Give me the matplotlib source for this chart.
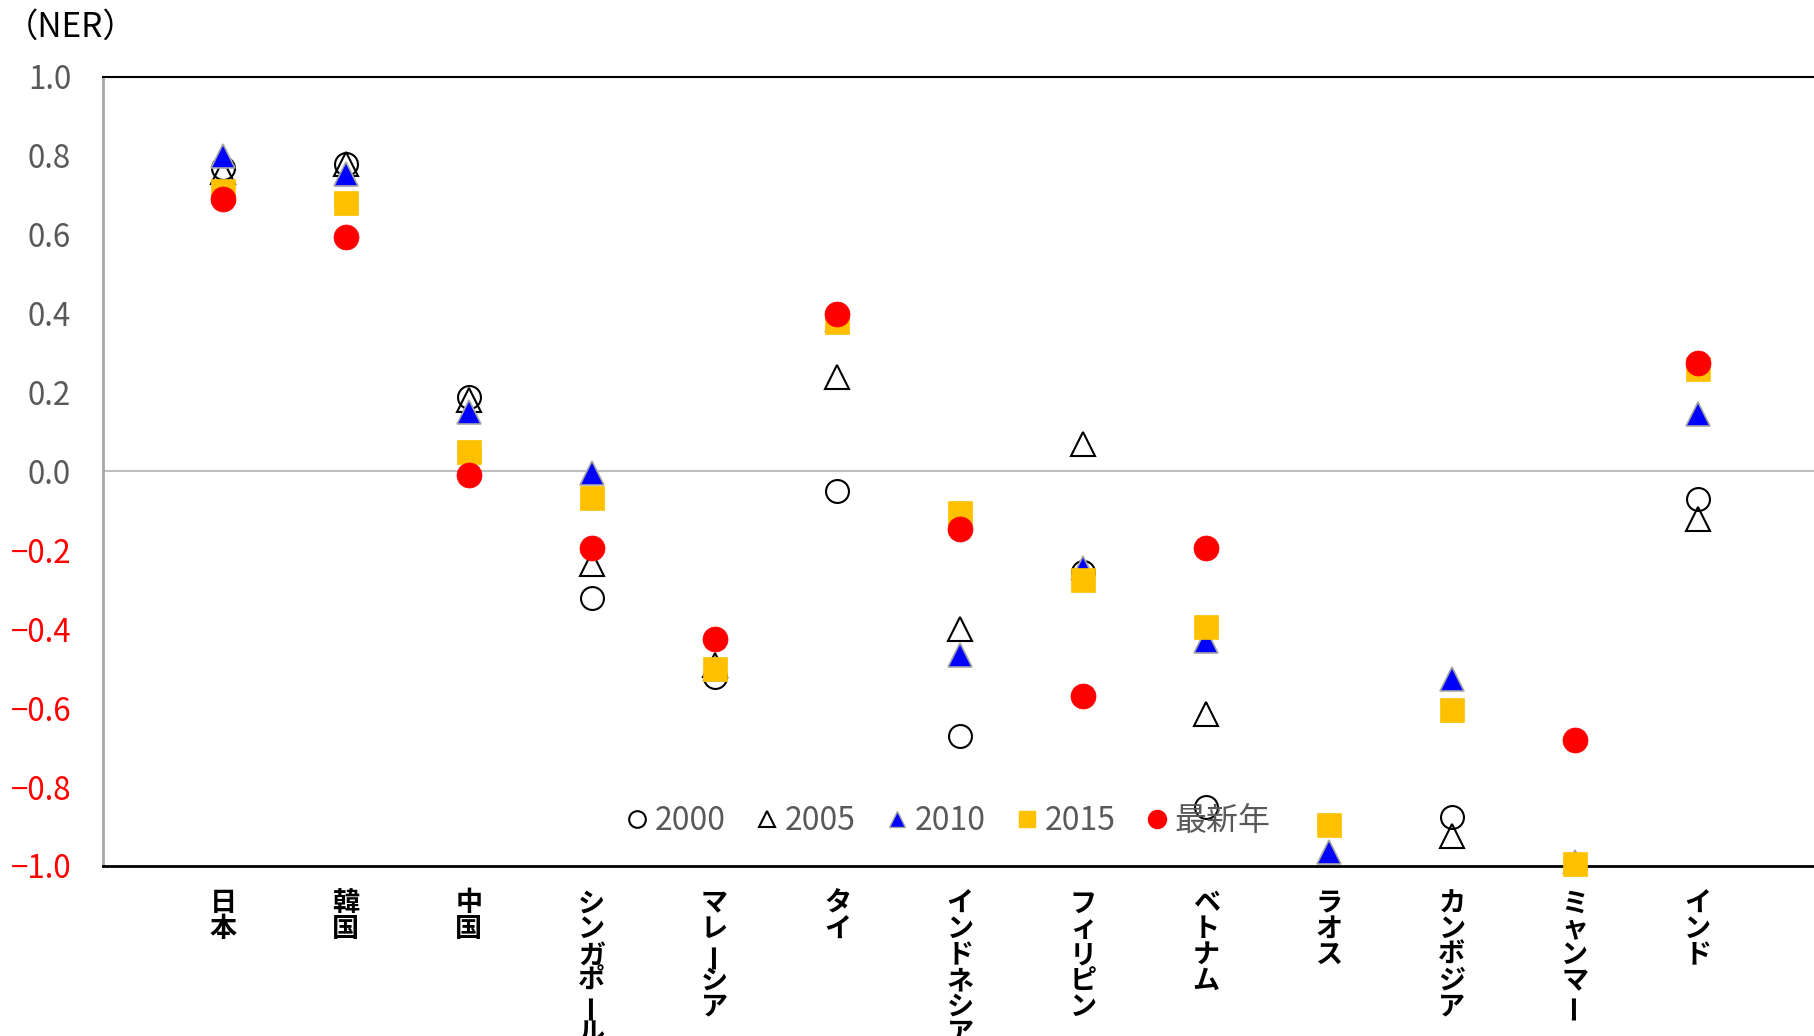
import numpy as np
import matplotlib
matplotlib.use("Agg")
import matplotlib.pyplot as plt
from matplotlib.lines import Line2D

plt.rcParams['font.family'] = ['Noto Sans CJK JP', 'DejaVu Sans']

nan = np.nan
countries = ['日本', '韓国', '中国', 'シンガポール', 'マレーシア', 'タイ', 'インドネシア',
             'フィリピン', 'ベトナム', 'ラオス', 'カンボジア', 'ミャンマー', 'インド']

ner_2000 = [0.77, 0.78, 0.19, -0.32, -0.52, -0.05, -0.67, -0.255, -0.85, nan, -0.875, nan, -0.07]
ner_2005 = [0.76, 0.78, 0.18, -0.235, -0.49, 0.24, -0.40, 0.07, -0.615, nan, -0.925, nan, -0.12]
ner_2010 = [0.80, 0.755, 0.15, -0.005, -0.50, 0.385, -0.465, -0.245, -0.43, -0.965, -0.525, -0.99, 0.145]
ner_2015 = [0.71, 0.68, 0.05, -0.068, -0.50, 0.378, -0.105, -0.275, -0.395, -0.895, -0.605, -0.995, 0.26]
ner_latest = [0.69, 0.595, -0.01, -0.195, -0.425, 0.40, -0.145, -0.57, -0.195, nan, nan, -0.68, 0.275]

yticks = [1.0, 0.8, 0.6, 0.4, 0.2, 0.0, -0.2, -0.4, -0.6, -0.8, -1.0]

fig = plt.figure(figsize=(18.14, 10.36), dpi=100)
ax = fig.add_axes([0.0568, 0.1641, 0.9432, 0.7616])

x = np.arange(len(countries))

ax.axhline(0, color='#BFBFBF', lw=1.5, zorder=1)

# series, drawn oldest first so the latest year sits on top
ax.plot(x, ner_2000, ls='none', marker='o', ms=16.5, mfc='none', mec='black', mew=1.5,
        clip_on=False, zorder=3)
ax.plot(x, ner_2005, ls='none', marker='^', ms=17, mfc='none', mec='black', mew=1.5,
        clip_on=False, zorder=3)
ax.plot(x, ner_2010, ls='none', marker='^', ms=17.5, mfc='#0000FF', mec='#A6A6A6', mew=1.2,
        clip_on=False, zorder=3)
ax.plot(x, ner_2015, ls='none', marker='s', ms=17, mfc='#FFC000', mec='#FFC000', mew=0.5,
        clip_on=False, zorder=3)
ax.plot(x, ner_latest, ls='none', marker='o', ms=18, mfc='#FF0000', mec='#FF0000', mew=0.5,
        clip_on=False, zorder=3)

ax.set_xlim(-0.976, 12.946)
ax.set_ylim(-1.0, 1.0)
ax.set_xticks([])
ax.set_yticks(yticks)
ax.set_yticklabels([f'{v:.1f}'.replace('-', '\u2212') for v in yticks], fontsize=22.5)
for lab, v in zip(ax.get_yticklabels(), yticks):
    lab.set_color('#FF0000' if v < 0 else '#595959')
ax.tick_params(axis='y', length=0, pad=23)

ax.spines['right'].set_visible(False)
ax.spines['left'].set_color('#A6A6A6')
ax.spines['left'].set_linewidth(2)
ax.spines['top'].set_color('black')
ax.spines['top'].set_linewidth(1.5)
ax.spines['bottom'].set_color('black')
ax.spines['bottom'].set_linewidth(2)

# vertical (stacked) category labels
for i, name in enumerate(countries):
    for k, ch in enumerate(name):
        ax.annotate(ch, xy=(i, 0), xycoords=('data', 'axes fraction'),
                    xytext=(0, -27 - k * 18.6), textcoords='offset points',
                    ha='center', va='center', fontsize=19.5, fontweight='bold',
                    rotation=90 if ch == 'ー' else 0, annotation_clip=False)

handles = [
    Line2D([], [], ls='none', marker='o', ms=12, mfc='none', mec='black', mew=1.5),
    Line2D([], [], ls='none', marker='^', ms=12, mfc='none', mec='black', mew=1.5),
    Line2D([], [], ls='none', marker='^', ms=12, mfc='#0000FF', mec='#A6A6A6', mew=1.0),
    Line2D([], [], ls='none', marker='s', ms=12, mfc='#FFC000', mec='#FFC000'),
    Line2D([], [], ls='none', marker='o', ms=13, mfc='#FF0000', mec='#FF0000'),
]
leg = ax.legend(handles, ['2000', '2005', '2010', '2015', '最新年'], ncol=5,
                loc='center', bbox_to_anchor=(0.4945, 0.0564), frameon=False,
                fontsize=23, handlelength=0.6, handletextpad=0.25, columnspacing=1.0,
                borderpad=0.2)
for t in leg.get_texts():
    t.set_color('#595959')

fig.text(5 / 1814, 1 - 27 / 1036, '（NER）', fontsize=24, va='center', ha='left')

fig.savefig('out.png', dpi=100)
